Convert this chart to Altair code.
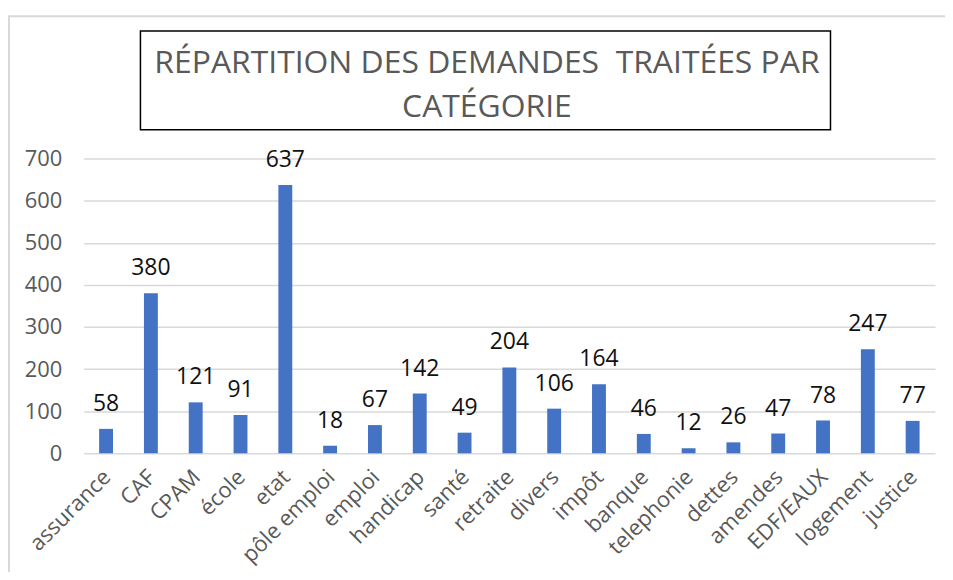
import altair as alt
import pandas as pd

categories = ["assurance", "CAF", "CPAM", "école", "etat", "pôle emploi", "emploi",
              "handicap", "santé", "retraite", "divers", "impôt", "banque",
              "telephonie", "dettes", "amendes", "EDF/EAUX", "logement", "justice"]
values = [58, 380, 121, 91, 637, 18, 67, 142, 49, 204, 106, 164, 46, 12, 26, 47, 78, 247, 77]
title_lines = ["RÉPARTITION DES DEMANDES\u00a0 TRAITÉES PAR", "CATÉGORIE"]
y_ticks = [0, 100, 200, 300, 400, 500, 600, 700]

df = pd.DataFrame({"cat": categories, "val": values})
FONT = "Open Sans"

base = alt.Chart(df).encode(
    x=alt.X("cat:N", sort=categories,
            scale=alt.Scale(paddingInner=0.69, paddingOuter=0.345),
            axis=alt.Axis(title=None, labelAngle=-45, labelFontSize=22, labelColor="#595959",
                          labelFont=FONT, ticks=False, domain=False, labelPadding=20,
                          labelAlign="right", labelBaseline="middle",
                          labelOffset=1, grid=False)),
)

bars = base.mark_bar(color="#4472C4").encode(
    y=alt.Y("val:Q", scale=alt.Scale(domain=[0, 700], nice=False),
            axis=alt.Axis(title=None, values=y_ticks, labelFontSize=22, labelColor="#595959",
                          labelFont=FONT, ticks=False, domain=False, labelPadding=22,
                          gridColor="#d9d9d9", gridWidth=1.5))
)

labels = base.mark_text(baseline="alphabetic", dy=-18, fontSize=23, font=FONT,
                        color="#111111").encode(
    y="val:Q", text="val:Q"
)

one = pd.DataFrame({"k": [0]})
outer = alt.Chart(one).mark_rect(fill=None, stroke="#d9d9d9", strokeWidth=2).encode(
    x=alt.value(-75), x2=alt.value(1000), y=alt.value(-143), y2=alt.value(700)
)
box = alt.Chart(one).mark_rect(fill=None, stroke="#000000", strokeWidth=1.5).encode(
    x=alt.value(57), x2=alt.value(750), y=alt.value(-128), y2=alt.value(-29)
)
tdf = pd.DataFrame({"t": title_lines, "i": [0, 1]})
t1 = alt.Chart(tdf.iloc[[0]]).mark_text(fontSize=32, font=FONT, color="#595959",
                                         baseline="alphabetic", align="center").encode(
    x=alt.value(405), y=alt.value(-86), text="t:N")
t2 = alt.Chart(tdf.iloc[[1]]).mark_text(fontSize=32, font=FONT, color="#595959",
                                         baseline="alphabetic", align="center").encode(
    x=alt.value(405), y=alt.value(-42), text="t:N")

chart = alt.layer(outer, bars, labels, box, t1, t2).properties(
    width=855, height=296,
    autosize=alt.AutoSizeParams(type="none"),
    padding={"left": 76, "top": 150, "right": 10, "bottom": 118},
).configure_view(stroke=None)

chart.save("out.html", embed_options={"renderer": "svg", "actions": False})
